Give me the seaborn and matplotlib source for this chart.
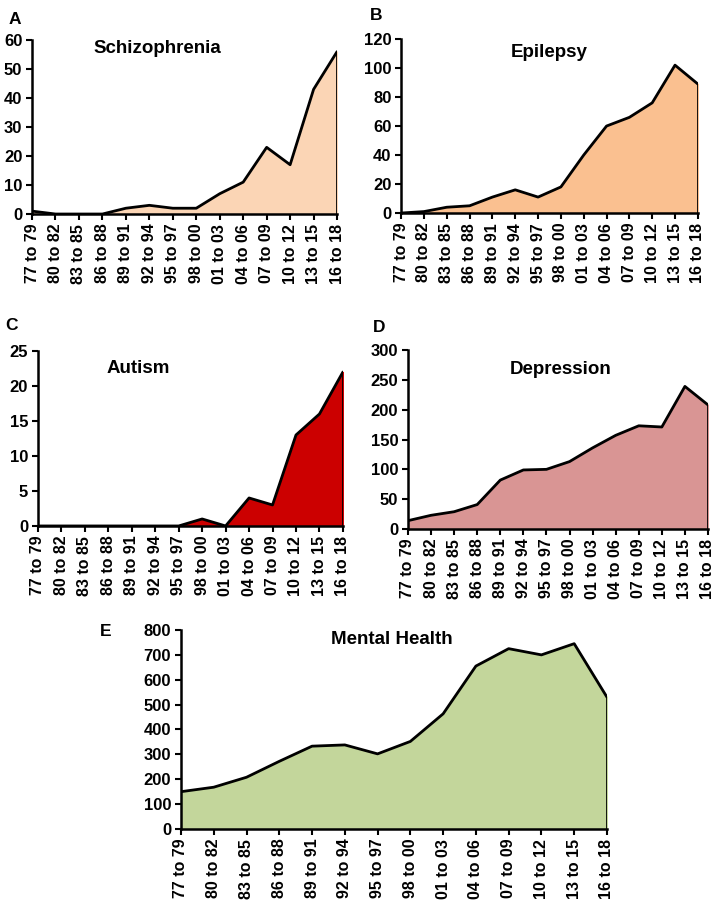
import numpy as np
import pandas as pd
import matplotlib
matplotlib.use('Agg')
import matplotlib.pyplot as plt
import seaborn as sns

periods = ['77 to 79', '80 to 82', '83 to 85', '86 to 88', '89 to 91', '92 to 94', '95 to 97',
           '98 to 00', '01 to 03', '04 to 06', '07 to 09', '10 to 12', '13 to 15', '16 to 18']

schizophrenia = [1, 0, 0, 0, 2, 3, 2, 2, 7, 11, 23, 17, 43, 56]
epilepsy = [0, 1, 4, 5, 11, 16, 11, 18, 40, 60, 66, 76, 102, 89]
autism = [0, 0, 0, 0, 0, 0, 0, 1, 0, 4, 3, 13, 16, 22]
depression = [14, 23, 29, 41, 82, 99, 100, 113, 136, 157, 173, 171, 239, 208]
mental_health = [150, 168, 208, 272, 333, 338, 302, 352, 463, 655, 725, 700, 745, 530]

sns.set_style('ticks')
plt.rcParams['font.family'] = ['Liberation Sans', 'DejaVu Sans']
plt.rcParams['font.weight'] = 'bold'
plt.rcParams['text.color'] = 'black'
plt.rcParams['xtick.color'] = 'black'
plt.rcParams['ytick.color'] = 'black'
plt.rcParams['axes.edgecolor'] = 'black'

fig = plt.figure(figsize=(7.15, 9), dpi=100)

# (letter, title, values, colour, ymax, ystep, axes rect, title pos, letter pos)
panels = [
    ('A', 'Schizophrenia', schizophrenia, '#FBD5B5', 60, 10,
     [0.0448, 0.7622, 0.4266, 0.1933], (0.41, 0.95), (0.012, 0.987)),
    ('B', 'Epilepsy', epilepsy, '#FAC090', 120, 20,
     [0.561, 0.7633, 0.415, 0.1933], (0.5, 0.925), (0.518, 0.991)),
    ('C', 'Autism', autism, '#CC0000', 25, 5,
     [0.053, 0.4156, 0.4266, 0.1944], (0.33, 0.90), (0.008, 0.647)),
    ('D', 'Depression', depression, '#D99594', 300, 50,
     [0.5706, 0.4122, 0.4196, 0.1989], (0.51, 0.89), (0.522, 0.645)),
    ('E', 'Mental Health', mental_health, '#C3D69B', 800, 100,
     [0.2531, 0.0789, 0.5958, 0.2211], (0.495, 0.95), (0.14, 0.307)),
]

for letter, title, vals, color, ymax, ystep, rect, tpos, lpos in panels:
    ax = fig.add_axes(rect)
    df = pd.DataFrame({'x': np.arange(len(periods)), 'y': vals})
    ax.fill_between(df['x'], df['y'], 0, color=color, zorder=1)
    sns.lineplot(data=df, x='x', y='y', ax=ax, color='black', lw=2, zorder=2)
    ax.plot([df['x'].iloc[-1]] * 2, [0, df['y'].iloc[-1]], color='black', lw=2, zorder=2)
    ax.set_xlim(0, len(periods) - 1)
    ax.set_ylim(0, ymax)
    ax.set_yticks(np.arange(0, ymax + 1, ystep))
    ax.set_xticks(df['x'])
    ax.set_xticklabels(periods, rotation=90, fontsize=11.5, fontweight='bold')
    ax.tick_params(axis='y', labelsize=12, width=1.5, length=4, pad=3)
    ax.tick_params(axis='x', width=1.5, length=4, pad=3)
    for lab in ax.get_yticklabels():
        lab.set_fontweight('bold')
    ax.set_xlabel('')
    ax.set_ylabel('')
    sns.despine(ax=ax)
    for s in ['left', 'bottom']:
        ax.spines[s].set_linewidth(1.8)
    ax.text(tpos[0], tpos[1], title, transform=ax.transAxes, ha='center', va='center',
            fontsize=13.5, fontweight='bold')
    fig.text(lpos[0], lpos[1], letter, ha='left', va='top', fontsize=12.5, fontweight='bold')

plt.savefig('out.png', dpi=100)
